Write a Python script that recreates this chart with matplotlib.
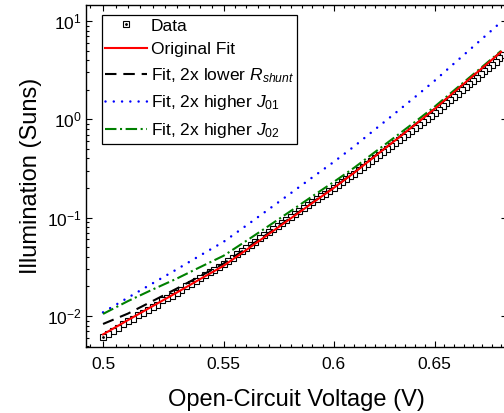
import matplotlib
matplotlib.use("Agg")
import numpy as np
import matplotlib.pyplot as plt
from matplotlib.ticker import FixedLocator, NullFormatter
from matplotlib.legend_handler import HandlerTuple

plt.rcParams['font.family'] = ['Liberation Sans', 'DejaVu Sans']
plt.rcParams['mathtext.fontset'] = 'custom'
plt.rcParams['mathtext.rm'] = 'Liberation Sans'
plt.rcParams['mathtext.it'] = 'Liberation Sans:italic'
plt.rcParams['mathtext.bf'] = 'Liberation Sans:bold'

# measured Suns-Voc data
voc_data = [
    0.500, 0.502, 0.504, 0.506, 0.508, 0.510, 0.512, 0.514, 0.516, 0.518,
    0.520, 0.522, 0.524, 0.526, 0.528, 0.530, 0.532, 0.534, 0.536, 0.538,
    0.540, 0.542, 0.544, 0.546, 0.548, 0.550, 0.552, 0.554, 0.556, 0.558,
    0.560, 0.562, 0.564, 0.566, 0.568, 0.570, 0.572, 0.574, 0.576, 0.578,
    0.580, 0.582, 0.584, 0.586, 0.588, 0.590, 0.592, 0.594, 0.596, 0.598,
    0.600, 0.602, 0.604, 0.606, 0.608, 0.610, 0.612, 0.614, 0.616, 0.618,
    0.620, 0.622, 0.624, 0.626, 0.628, 0.630, 0.632, 0.634, 0.636, 0.638,
    0.640, 0.642, 0.644, 0.646, 0.648, 0.650, 0.652, 0.654, 0.656, 0.658,
    0.660, 0.662, 0.664, 0.666, 0.668, 0.670, 0.672, 0.674, 0.676, 0.678,
    0.680, 0.682, 0.684, 0.686,
]
suns_data = [
    0.00605, 0.00653, 0.00706, 0.00762, 0.00824, 0.00889, 0.00930, 0.01035, 0.01081, 0.01153,
    0.01230, 0.01290, 0.01440, 0.01510, 0.01614, 0.01730, 0.01820, 0.02010, 0.02123, 0.02275,
    0.02438, 0.02600, 0.02773, 0.02951, 0.03148, 0.03357, 0.03622, 0.03908, 0.04227, 0.04560,
    0.04920, 0.05297, 0.05702, 0.06152, 0.06622, 0.07129, 0.07656, 0.08222, 0.08810, 0.09462,
    0.1016, 0.1089, 0.1169, 0.1253, 0.1346, 0.1442, 0.1538, 0.1644, 0.1754, 0.1875,
    0.2000, 0.2143, 0.2291, 0.2455, 0.2624, 0.2812, 0.3020, 0.3243, 0.3491, 0.3750,
    0.4027, 0.4315, 0.4634, 0.4966, 0.5321, 0.5702, 0.6124, 0.6577, 0.7063, 0.7586,
    0.8147, 0.8750, 0.9397, 1.009, 1.084, 1.164, 1.256, 1.352, 1.459, 1.574,
    1.698, 1.828, 1.968, 2.123, 2.286, 2.460, 2.655, 2.858, 3.083, 3.319,
    3.581, 3.864, 4.169, 4.49,
]

# fitted curves
voc_fit = [0.50, 0.51, 0.52, 0.53, 0.54, 0.55, 0.56, 0.57, 0.58, 0.59,
           0.60, 0.61, 0.62, 0.63, 0.64, 0.65, 0.66, 0.67, 0.68, 0.685]
fit_orig = [0.0065, 0.0091, 0.0126, 0.0173, 0.0238, 0.0324, 0.0470, 0.0681, 0.0982, 0.141,
            0.200, 0.288, 0.422, 0.612, 0.885, 1.28, 1.89, 2.77, 4.03, 4.86]
fit_rsh = [0.0083, 0.0106, 0.0142, 0.0190, 0.0255, 0.0341, 0.0487, 0.0698, 0.0999, 0.1427,
           0.2017, 0.2897, 0.4237, 0.6137, 0.8867, 1.282, 1.892, 2.772, 4.032, 4.862]
fit_j01 = [0.0109, 0.0154, 0.0215, 0.0298, 0.0414, 0.0568, 0.0832, 0.1217, 0.1772, 0.2568,
           0.3676, 0.5342, 0.7904, 1.157, 1.692, 2.477, 3.701, 5.474, 8.06, 9.79]
fit_j02 = [0.0105, 0.0142, 0.0186, 0.0240, 0.0315, 0.0410, 0.0581, 0.0825, 0.1168, 0.1650,
           0.2302, 0.3237, 0.4655, 0.6640, 0.9452, 1.348, 1.971, 2.861, 4.135, 4.977]

x_ticks = [0.5, 0.55, 0.6, 0.65]
x_tick_labels = ['0.5', '0.55', '0.6', '0.65']
y_ticks = [1e-2, 1e-1, 1e0, 1e1]
y_tick_labels = [r'$10^{-2}$', r'$10^{-1}$', r'$10^{0}$', r'$10^{1}$']

fig = plt.figure(figsize=(5.04, 4.13), dpi=100)
ax = fig.add_axes([0.1706, 0.1598, 0.8353, 0.8281])
ax.set_xscale('log')
ax.set_yscale('log')

# data squares, drawn from high to low Voc like the flash decay
sq, = ax.plot(voc_data[::-1], suns_data[::-1], 's', ms=4.6, mfc='white',
              mec='black', mew=0.8, zorder=2)
dot, = ax.plot(voc_data[:1], suns_data[:1], '.', ms=2, color='black', zorder=2.1)

l_rsh, = ax.plot(voc_fit, fit_rsh, color='black', lw=1.5, dashes=(5.5, 3.3), zorder=3)
l_j01, = ax.plot(voc_fit, fit_j01, color='#0000ff', lw=1.8, dashes=(0.01, 3.3),
                 dash_capstyle='round', zorder=3)
l_j02, = ax.plot(voc_fit, fit_j02, color='#008000', lw=1.5, dashes=(5.5, 1.7, 1.0, 1.7),
                 zorder=3)
l_orig, = ax.plot(voc_fit, fit_orig, color='#ff0000', lw=1.5, zorder=4)

ax.set_xlim(0.4933, 0.6882)
ax.set_ylim(0.00484, 14.55)

ax.xaxis.set_major_locator(FixedLocator(x_ticks))
ax.set_xticklabels(x_tick_labels)
ax.xaxis.set_minor_locator(FixedLocator(np.arange(0.495, 0.69, 0.005)))
ax.xaxis.set_minor_formatter(NullFormatter())
ax.yaxis.set_major_locator(FixedLocator(y_ticks))
ax.set_yticklabels(y_tick_labels)
ax.yaxis.set_minor_locator(matplotlib.ticker.LogLocator(base=10, subs=np.arange(2, 10)))
ax.yaxis.set_minor_formatter(NullFormatter())

ax.tick_params(which='both', direction='in', top=True, right=True, width=0.8)
ax.tick_params(which='major', length=4.5, labelsize=12.5)
ax.tick_params(which='minor', length=2.3)
ax.tick_params(axis='x', which='major', pad=7)
ax.tick_params(axis='y', which='major', pad=3)
for s in ax.spines.values():
    s.set_linewidth(1.0)

ax.set_xlabel('Open-Circuit Voltage (V)', fontsize=17)
ax.set_ylabel('Illumination (Suns)', fontsize=17)
ax.xaxis.set_label_coords(0.5, -0.122)
ax.yaxis.set_label_coords(-0.105, 0.5)

leg = ax.legend([(sq, dot), l_orig, l_rsh, l_j01, l_j02],
                ['Data', 'Original Fit', r'Fit, 2x lower $R_{shunt}$',
                 r'Fit, 2x higher $J_{01}$', r'Fit, 2x higher $J_{02}$'],
                handler_map={tuple: HandlerTuple(ndivide=1)},
                loc='upper left', bbox_to_anchor=(0.038, 0.971), borderaxespad=0,
                fontsize=12.5, fancybox=False, edgecolor='black', framealpha=1,
                numpoints=1, handlelength=2.4, handletextpad=0.2, borderpad=0.2,
                labelspacing=0.5)
leg.get_frame().set_linewidth(0.9)

fig.savefig('out.png', dpi=100)
